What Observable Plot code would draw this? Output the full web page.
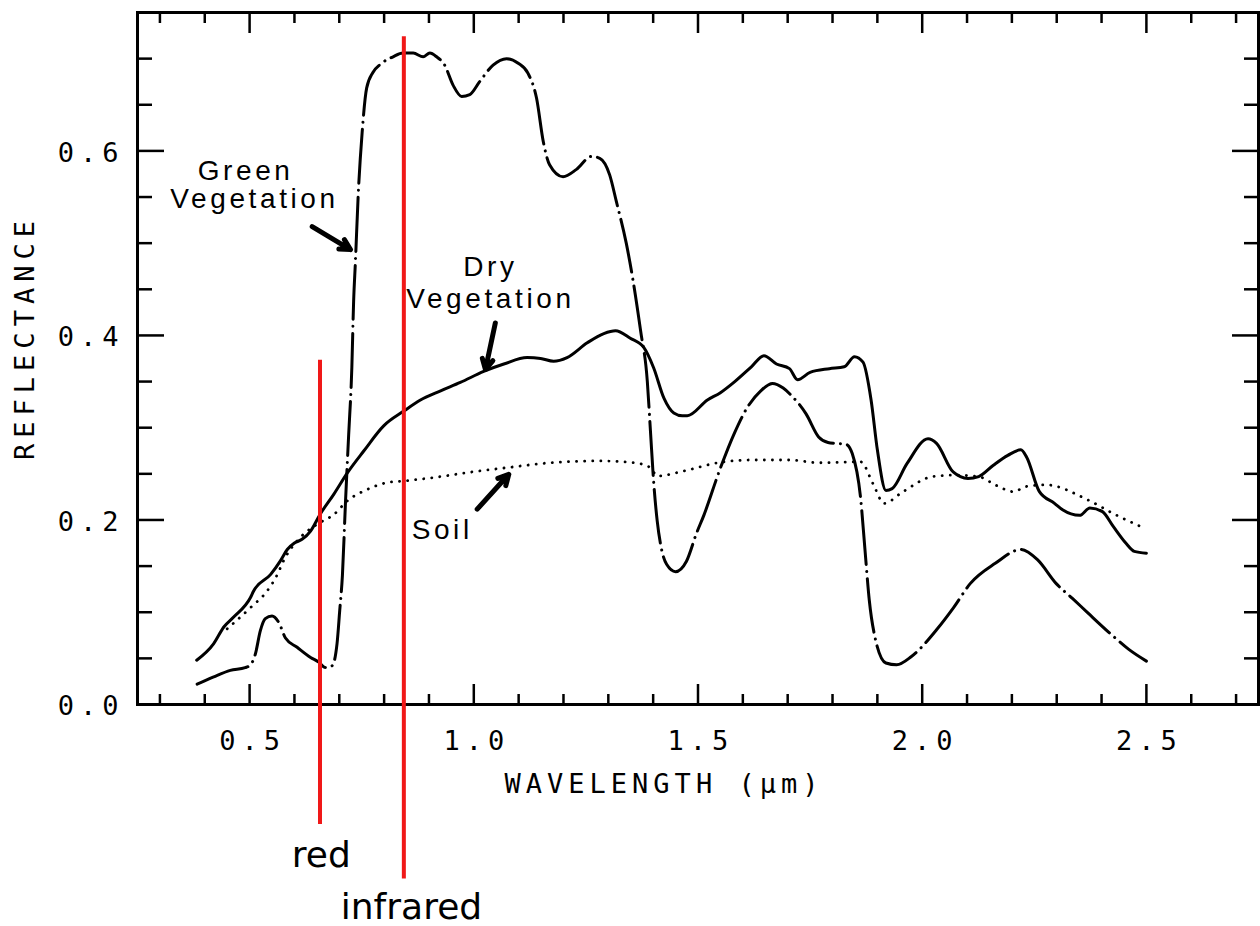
<!DOCTYPE html>
<html><head><meta charset="utf-8">
<script src="https://cdn.jsdelivr.net/npm/d3@7"></script>
<script src="https://cdn.jsdelivr.net/npm/@observablehq/plot@0.6"></script>
<style>
html,body{margin:0;padding:0;background:#fff;}
g[aria-label="x-axis tick label"] text, g[aria-label="y-axis tick label"] text {letter-spacing:6px;}
</style></head>
<body><div id="chart"></div>
<script>
// ---- data ----
const greenWl = [0.383,0.42,0.457,0.49,0.50,0.513,0.524,0.535,0.55,0.565,0.58,0.606,0.636,0.654,0.669,0.684,0.695,0.701,0.707,0.714,0.721,0.728,0.732,0.736,0.742,0.751,0.761,0.775,0.792,0.82,0.842,0.865,0.887,0.902,0.917,0.935,0.954,0.973,0.991,1.013,1.043,1.073,1.099,1.121,1.14,1.155,1.169,1.199,1.229,1.262,1.281,1.303,1.318,1.34,1.355,1.372,1.387,1.394,1.401,1.409,1.418,1.43,1.45,1.474,1.497,1.513,1.549,1.582,1.61,1.64,1.666,1.69,1.708,1.741,1.769,1.79,1.807,1.83,1.844,1.863,1.872,1.882,1.896,1.919,1.943,1.976,2.032,2.07,2.107,2.163,2.22,2.257,2.299,2.335,2.37,2.426,2.46,2.5];
const greenR  = [0.022,0.030,0.037,0.040,0.042,0.055,0.080,0.093,0.096,0.089,0.072,0.062,0.051,0.046,0.040,0.042,0.066,0.102,0.140,0.221,0.293,0.365,0.437,0.480,0.550,0.620,0.668,0.685,0.694,0.702,0.706,0.706,0.702,0.706,0.702,0.693,0.671,0.659,0.661,0.675,0.693,0.700,0.695,0.684,0.657,0.610,0.585,0.572,0.580,0.594,0.592,0.574,0.545,0.500,0.460,0.405,0.350,0.296,0.242,0.199,0.170,0.152,0.144,0.155,0.186,0.205,0.255,0.295,0.322,0.340,0.348,0.343,0.335,0.315,0.290,0.284,0.283,0.282,0.272,0.222,0.170,0.113,0.070,0.045,0.043,0.052,0.081,0.105,0.131,0.153,0.168,0.157,0.131,0.115,0.099,0.074,0.060,0.047];

const dryWl = [0.382,0.42,0.4425,0.465,0.502,0.509,0.547,0.569,0.584,0.60,0.617,0.636,0.657,0.688,0.718,0.755,0.799,0.844,0.881,0.926,0.97,1.022,1.067,1.119,1.149,1.178,1.208,1.253,1.29,1.316,1.349,1.379,1.401,1.424,1.446,1.465,1.476,1.521,1.55,1.582,1.619,1.647,1.675,1.704,1.722,1.75,1.793,1.826,1.849,1.868,1.886,1.90,1.919,1.933,1.966,2.013,2.032,2.069,2.102,2.126,2.158,2.191,2.22,2.233,2.261,2.295,2.313,2.351,2.374,2.402,2.426,2.454,2.473,2.5];
const dryR  = [0.048,0.066,0.084,0.095,0.116,0.123,0.141,0.156,0.168,0.175,0.179,0.188,0.206,0.228,0.251,0.275,0.302,0.318,0.330,0.340,0.349,0.361,0.369,0.376,0.375,0.372,0.376,0.392,0.402,0.405,0.397,0.387,0.365,0.332,0.316,0.313,0.313,0.330,0.338,0.350,0.366,0.378,0.369,0.364,0.352,0.360,0.364,0.366,0.377,0.371,0.330,0.276,0.232,0.234,0.261,0.288,0.283,0.252,0.245,0.247,0.259,0.270,0.276,0.268,0.231,0.218,0.211,0.205,0.213,0.209,0.193,0.175,0.166,0.164];

const soilWl = [0.45,0.502,0.539,0.562,0.576,0.613,0.651,0.688,0.718,0.762,0.807,0.844,0.911,0.985,1.074,1.171,1.283,1.357,1.394,1.409,1.468,1.544,1.62,1.704,1.769,1.863,1.89,1.915,1.957,2.023,2.069,2.126,2.163,2.205,2.229,2.276,2.37,2.426,2.496];
const soilR  = [0.082,0.105,0.123,0.141,0.156,0.181,0.1955,0.206,0.2207,0.233,0.2405,0.2423,0.246,0.2513,0.2567,0.262,0.264,0.262,0.2567,0.2477,0.253,0.262,0.265,0.265,0.262,0.263,0.2396,0.218,0.2306,0.247,0.2486,0.247,0.238,0.2306,0.236,0.238,0.2216,0.207,0.191];

const bandNames = ["red", "infrared"];
const bandWl = [0.657, 0.844];

const xMajorTicks = [0.5, 1.0, 1.5, 2.0, 2.5];
const xMinorTicks = [0.3,0.4,0.6,0.7,0.8,0.9,1.1,1.2,1.3,1.4,1.6,1.7,1.8,1.9,2.1,2.2,2.3,2.4,2.6,2.7];
const yMajorTicks = [0.0, 0.2, 0.4, 0.6];
const yMinorTicks = [0.05,0.1,0.15,0.25,0.3,0.35,0.45,0.5,0.55,0.65,0.7];

const curveLabels = ["Green", "Vegetation", "Dry", "Vegetation", "Soil"];
const xTitle = "WAVELENGTH (\u03bcm)";
const yTitle = "REFLECTANCE";

// ---- layout (annotation placement, not data) ----
const labelPos = [[0.491,0.569],[0.511,0.538],[1.037,0.464],[1.037,0.4297],[0.9295,0.179]];
const arrowPos = [[0.6396,0.518,0.725,0.493],[1.048,0.4135,1.026,0.363],[1.0076,0.2117,1.078,0.2495]];
const bandSpan = [[-0.13,0.373],[-0.189,0.7236]];
const bandLabelPos = [[0.66,-0.176],[0.861,-0.233]];

const toRows = (wl, r) => wl.map((w, i) => ({wl: w, r: r[i]}));
const green = toRows(greenWl, greenR);
const dry = toRows(dryWl, dryR);
const soil = toRows(soilWl, soilR);
const bands = bandNames.map((n, i) => ({name: n, wl: bandWl[i], y1: bandSpan[i][0], y2: bandSpan[i][1], lx: bandLabelPos[i][0], ly: bandLabelPos[i][1]}));
const labels = curveLabels.map((t, i) => ({t, x: labelPos[i][0], y: labelPos[i][1]}));
const arrows = arrowPos.map(a => ({x1: a[0], y1: a[1], x2: a[2], y2: a[3]}));

const mono = "DejaVu Sans Mono";
const fmt = d3.format(".1f");
const tickW = 2.5;

const chart = Plot.plot({
  width: 1260, height: 926,
  marginLeft: 137, marginRight: 2, marginTop: 12, marginBottom: 222,
  style: {fontFamily: mono, fontSize: "27px", color: "black", background: "white"},
  x: {domain: [0.25, 2.75]},
  y: {domain: [0, 0.75]},
  marks: [
    Plot.frame({stroke: "black", strokeWidth: 3}),
    // bottom axis
    Plot.axisX(xMajorTicks, {anchor: "bottom", tickSize: 0, tickPadding: 26, dx: 3, tickFormat: fmt, label: null, fontFamily: mono, fontSize: 27}),
    Plot.axisX(xMajorTicks, {anchor: "bottom", tickSize: -20, strokeWidth: tickW, fill: "none"}),
    Plot.axisX(xMinorTicks, {anchor: "bottom", tickSize: -10, strokeWidth: tickW, fill: "none"}),
    // top axis
    Plot.axisX(xMajorTicks, {anchor: "top", tickSize: -20, strokeWidth: tickW, fill: "none"}),
    Plot.axisX(xMinorTicks, {anchor: "top", tickSize: -10, strokeWidth: tickW, fill: "none"}),
    // left axis
    Plot.axisY(yMajorTicks, {anchor: "left", tickSize: 0, tickPadding: 13, dy: 2, tickFormat: fmt, label: null, fontFamily: mono, fontSize: 27}),
    Plot.axisY(yMajorTicks, {anchor: "left", tickSize: -27, strokeWidth: tickW, fill: "none"}),
    Plot.axisY(yMinorTicks, {anchor: "left", tickSize: -15, strokeWidth: tickW, fill: "none"}),
    // right axis
    Plot.axisY(yMajorTicks, {anchor: "right", tickSize: -27, strokeWidth: tickW, fill: "none"}),
    Plot.axisY(yMinorTicks, {anchor: "right", tickSize: -15, strokeWidth: tickW, fill: "none"}),
    // axis titles
    Plot.text([xTitle], {text: d => d, frameAnchor: "bottom", textAnchor: "middle", dx: -34, dy: 79.5, lineAnchor: "middle", fontFamily: mono, fontSize: 27}),
    Plot.text([yTitle], {text: d => d, frameAnchor: "left", textAnchor: "middle", rotate: -90, dx: -112.5, dy: -21, lineAnchor: "middle", fontFamily: mono, fontSize: 27}),
    // curves
    Plot.line(soil, {x: "wl", y: "r", stroke: "black", strokeWidth: 2.8, strokeDasharray: "0.1,8", strokeLinecap: "round", curve: "monotone-x"}),
    Plot.line(dry, {x: "wl", y: "r", stroke: "black", strokeWidth: 3, curve: "monotone-x"}),
    Plot.line(green, {x: "wl", y: "r", stroke: "black", strokeWidth: 3, strokeDasharray: "54,7,0.1,7", strokeLinecap: "round", curve: "monotone-x"}),
    // labels and arrows
    Plot.text(labels, {x: "x", y: "y", text: "t", lineAnchor: "bottom", textAnchor: "middle", fontFamily: "Liberation Sans", fontSize: 28, fill: "black"}),
    Plot.arrow(arrows, {x1: "x1", y1: "y1", x2: "x2", y2: "y2", stroke: "black", strokeWidth: 5, headLength: 3.5, headAngle: 55}),
    // red / infrared band lines
    Plot.ruleX(bands, {x: "wl", y1: "y1", y2: "y2", stroke: "#f01818", strokeWidth: 4}),
    Plot.text(bands, {x: "lx", y: "ly", text: "name", lineAnchor: "bottom", textAnchor: "middle", fontFamily: "DejaVu Sans", fontSize: 36, fill: "black"})
  ]
});
document.getElementById("chart").appendChild(chart);

// letter spacing for the plotter-style titles and the curve labels
const spaceText = (texts, ls) => d3.select(chart).selectAll("text")
  .filter(function () { return texts.includes(this.textContent); })
  .attr("letter-spacing", ls + "px");
spaceText([xTitle], 5);
spaceText([yTitle], 6);
spaceText(curveLabels, 3.6);
</script>
</body></html>
